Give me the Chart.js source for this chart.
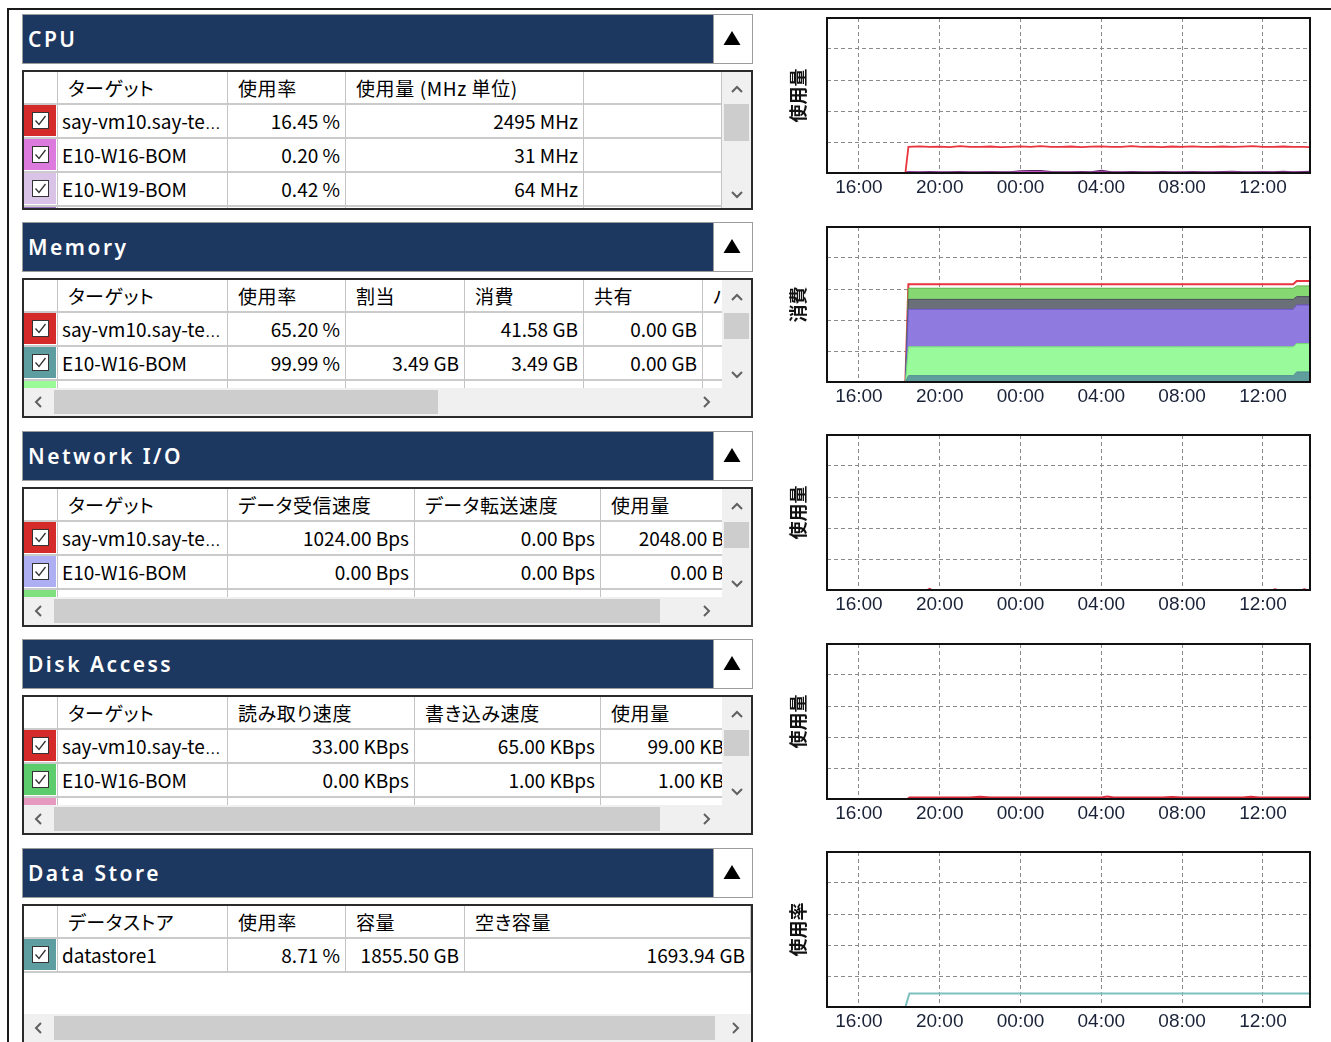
<!DOCTYPE html>
<html lang="ja"><head><meta charset="utf-8">
<script src="https://cdn.jsdelivr.net/npm/chart.js@4.4.1/dist/chart.umd.min.js"></script>
<style>
html,body{margin:0;padding:0;background:#fff}
body{position:relative;width:1331px;height:1042px;overflow:hidden;font-family:"Noto Sans CJK JP","Noto Sans",sans-serif;color:#000}
.frameT{position:absolute;left:7px;top:8px;width:1324px;height:2px;background:#1a1a1a}
.frameL{position:absolute;left:7px;top:8px;width:2px;height:1034px;background:#1a1a1a}
.hdr{position:absolute;left:22px;width:731px;height:50px;box-sizing:border-box;border:1px solid #9c9c9c;background:#fff}
.bar{position:absolute;left:0;top:0;width:690px;height:48px;background:#1c3760;color:#fff;font-family:"Noto Sans","DejaVu Sans",sans-serif;font-size:21px;font-weight:600;letter-spacing:2.5px;line-height:48px;padding-left:5px;box-sizing:border-box;white-space:nowrap}
.btn{position:absolute;left:690px;top:0;width:39px;height:48px;border-left:1px solid #9c9c9c;box-sizing:border-box;background:#fff}
.tbl{position:absolute;left:22px;width:731px;height:140px;box-sizing:border-box;border:2px solid #2b2b2b;background:#fff;overflow:hidden}
.vp{position:absolute;left:0;top:0;overflow:hidden}
.cell{position:absolute;box-sizing:border-box;border-right:1px solid #c4c4c4;border-bottom:2px solid #cbcbcb;white-space:nowrap;overflow:hidden;font-size:19px;letter-spacing:0;font-feature-settings:"palt";line-height:31px}
.cell.h{letter-spacing:0.6px}
.ell{font-family:"Liberation Sans",Arial,sans-serif;font-size:16px}
.sb{position:absolute;left:0;top:0}
canvas.ch{position:absolute;left:780px}
</style>
</head><body>
<div class="frameT"></div><div class="frameL"></div>
<canvas class="ch" id="c0" width="535" height="191"></canvas>
<canvas class="ch" id="c1" width="535" height="191"></canvas>
<canvas class="ch" id="c2" width="535" height="191"></canvas>
<canvas class="ch" id="c3" width="535" height="191"></canvas>
<canvas class="ch" id="c4" width="535" height="191"></canvas>
<script>
// ---------- chart data ----------
const xTickHours = [16, 20, 24, 28, 32, 36];
const yTitles = ['使用量', '消費', '使用量', '使用量', '使用率'];

const cpuTimes = [18.3, 18.45, 19, 19.5, 20, 20.5, 21, 21.5, 22, 22.5, 23, 23.5, 24, 24.5, 25, 25.5, 26, 26.5, 27, 27.5, 28, 28.5, 29, 29.5, 30, 30.5, 31, 31.5, 32, 32.5, 33, 33.5, 34, 34.5, 35, 35.5, 36, 36.5, 37, 37.5, 38, 38.33];
const cpuVm10 = [0, 16.9, 17.2, 16.8, 17.0, 16.7, 17.3, 16.8, 16.9, 17.1, 16.7, 16.9, 17.2, 16.8, 17.4, 16.9, 16.8, 17.1, 16.7, 17.0, 17.2, 16.8, 16.9, 17.3, 16.8, 17.0, 16.7, 17.1, 16.9, 17.2, 16.8, 16.9, 17.1, 16.8, 17.0, 17.3, 16.9, 16.8, 17.1, 16.9, 16.8, 16.7];
const cpuW16 = [0, 0.3, 0.3, 0.2, 0.3, 0.2, 0.2, 0.3, 0.2, 0.3, 0.2, 0.2, 0.6, 0.7, 0.6, 0.3, 0.2, 0.3, 0.2, 0.2, 0.5, 0.2, 0.3, 0.2, 0.2, 0.3, 0.2, 0.2, 0.3, 0.2, 0.2, 0.3, 0.2, 0.3, 0.2, 0.2, 0.3, 0.2, 0.2, 0.3, 0.2, 0.2];
const cpuW19 = [0, 0.5, 0.4, 0.5, 0.4, 0.4, 0.5, 0.4, 0.4, 0.5, 0.4, 0.4, 1.0, 1.2, 1.1, 0.5, 0.4, 0.4, 0.5, 0.4, 1.3, 0.4, 0.4, 0.5, 0.4, 0.4, 0.5, 0.4, 0.4, 0.5, 0.4, 0.4, 0.5, 0.6, 0.4, 0.4, 0.5, 0.4, 0.7, 0.4, 0.5, 0.6];

const memTimes = [18.3, 18.45, 37.5, 37.67, 38.33];
const memW16 = [0, 4.1, 4.1, 6.5, 6.5];
const memW19 = [0, 18.6, 18.6, 18.3, 18.3];
const memW20 = [0, 24.2, 24.2, 24.9, 24.9];
const memW21 = [0, 6.4, 6.4, 5.4, 5.4];
const memW22 = [0, 7.2, 7.2, 6.9, 6.9];
const memVm10 = [0, 63.1, 63.1, 65.2, 65.2];

const netTimes = [18.3, 19.4, 19.5, 19.6, 36.5, 36.6, 36.7, 37.95, 38.05, 38.15, 38.33];
const netVm10 = [0, 0, 0.7, 0, 0, 0.5, 0, 0, 0.5, 0, 0];
const netW16 = [0, 0, 0, 0, 0, 0, 0, 0, 0, 0, 0];

const diskTimes = [18.4, 18.5, 21.5, 22, 22.5, 28, 28.3, 28.6, 31, 31.5, 32, 35, 35.4, 35.8, 38.33];
const diskVm10 = [0, 0.9, 0.9, 1.4, 0.9, 0.9, 1.6, 0.9, 0.9, 1.3, 0.9, 0.9, 1.4, 0.9, 0.9];

const dsTimes = [18.3, 18.5, 38.33];
const dsStore1 = [0, 8.71, 8.71];

// ---------- table data ----------
const panelTitles = ['CPU', 'Memory', 'Network I/O', 'Disk Access', 'Data Store'];
const cpuHead = ['ターゲット', '使用率', '使用量 (MHz 単位)', ''];
const cpuRows = [['say-vm10.say-te…', '16.45 %', '2495 MHz', ''], ['E10-W16-BOM', '0.20 %', '31 MHz', ''], ['E10-W19-BOM', '0.42 %', '64 MHz', ''], ['', '', '', '']];
const memHead = ['ターゲット', '使用率', '割当', '消費', '共有', 'バルーン'];
const memRows = [['say-vm10.say-te…', '65.20 %', '', '41.58 GB', '0.00 GB', ''], ['E10-W16-BOM', '99.99 %', '3.49 GB', '3.49 GB', '0.00 GB', ''], ['', '', '', '', '', '']];
const netHead = ['ターゲット', 'データ受信速度', 'データ転送速度', '使用量'];
const netRows = [['say-vm10.say-te…', '1024.00 Bps', '0.00 Bps', '2048.00 B'], ['E10-W16-BOM', '0.00 Bps', '0.00 Bps', '0.00 B'], ['', '', '', '']];
const diskHead = ['ターゲット', '読み取り速度', '書き込み速度', '使用量'];
const diskRows = [['say-vm10.say-te…', '33.00 KBps', '65.00 KBps', '99.00 KB'], ['E10-W16-BOM', '0.00 KBps', '1.00 KBps', '1.00 KB'], ['', '', '', '']];
const dsHead = ['データストア', '使用率', '容量', '空き容量'];
const dsRows = [['datastore1', '8.71 %', '1855.50 GB', '1693.94 GB']];
const cpuSw = ['#d42a2a', '#dd7add', '#d9c3e6', '#9a70c0'];
const memSw = ['#d42a2a', '#5f9ea0', '#98fb98'];
const netSw = ['#d42a2a', '#aeaef2', '#7ee07e'];
const diskSw = ['#d42a2a', '#5ccc6c', '#e79ac0'];
const dsSw = ['#5f9ea0'];

// ---------- build panels ----------
const panels = [
  {top: 14, head: cpuHead, rows: cpuRows, sw: cpuSw, edges: [24, 58, 228, 346, 584, 722], v: [32, 37], h: null},
  {top: 222, head: memHead, rows: memRows, sw: memSw, edges: [24, 58, 228, 346, 465, 584, 703, 820], v: [33, 26], h: 384},
  {top: 431, head: netHead, rows: netRows, sw: netSw, edges: [24, 58, 228, 415, 601, 730], v: [33, 26], h: 606},
  {top: 639, head: diskHead, rows: diskRows, sw: diskSw, edges: [24, 58, 228, 415, 601, 730], v: [33, 26], h: 606},
  {top: 848, head: dsHead, rows: dsRows, sw: dsSw, edges: [24, 58, 228, 346, 465, 751], v: null, h: 661}
];
const checkSvg = '<svg width="17" height="17" style="position:absolute;left:8px;top:7px"><rect x="0.5" y="0.5" width="16" height="16" fill="#fff" stroke="#333"/><polyline points="3.5,8.5 7,12.5 13.5,4" fill="none" stroke="#333" stroke-width="1.3"/></svg>';
const fmt = t => t.replace('…', '<span class="ell">…</span>');
panels.forEach((p, pi) => {
  const hdr = document.createElement('div');
  hdr.className = 'hdr'; hdr.style.top = p.top + 'px';
  hdr.innerHTML = '<div class="bar">' + panelTitles[pi] + '</div><div class="btn"><svg width="39" height="48"><polygon points="9.5,30 26.5,30 18,16" fill="#000"/></svg></div>';
  document.body.appendChild(hdr);
  const tbl = document.createElement('div');
  tbl.className = 'tbl'; tbl.style.top = (p.top + 56) + 'px';
  const vpW = p.v ? 698 : 727, vpH = p.h ? 108 : 136;
  const vp = document.createElement('div');
  vp.className = 'vp'; vp.style.width = vpW + 'px'; vp.style.height = vpH + 'px';
  let html = '';
  const rowsAll = [p.head].concat(p.rows);
  let y = 0;
  rowsAll.forEach((r, ri) => {
    const hgt = ri === 0 ? 33 : 34;
    for (let c = 0; c < p.edges.length - 1; c++) {
      const x = p.edges[c] - 24, w = p.edges[c + 1] - p.edges[c];
      let inner = '', st = '';
      if (c === 0) {
        if (ri > 0) inner = '<div style="position:absolute;left:0;top:0;width:' + (w - 2) + 'px;height:' + (hgt - 3) + 'px;background:' + p.sw[ri - 1] + '"></div>' + checkSvg;
      } else {
        const t = ri === 0 ? p.head[c - 1] : r[c - 1];
        if (ri === 0) st = 'padding-left:10px;text-align:left;';
        else if (c === 1) st = 'padding-left:4px;text-align:left;';
        else st = 'padding-right:5px;text-align:right;';
        inner = fmt(t);
      }
      html += '<div class="cell' + (ri === 0 ? ' h' : '') + '" style="left:' + x + 'px;top:' + y + 'px;width:' + w + 'px;height:' + hgt + 'px;' + st + '">' + inner + '</div>';
    }
    y += hgt;
  });
  vp.innerHTML = html;
  tbl.appendChild(vp);
  let s = '<svg class="sb" width="727" height="136">';
  if (p.v) {
    s += '<rect x="698" y="0" width="29" height="' + vpH + '" fill="#f0f0f0"/>';
    s += '<rect x="700" y="' + p.v[0] + '" width="25" height="' + p.v[1] + '" fill="#cdcdcd"/>';
    s += '<polyline points="708,20 713,15 718,20" fill="none" stroke="#606060" stroke-width="2"/>';
    const dy = vpH - 13;
    s += '<polyline points="708,' + (dy - 3) + ' 713,' + (dy + 2) + ' 718,' + (dy - 3) + '" fill="none" stroke="#606060" stroke-width="2"/>';
  }
  if (p.h) {
    const hw = p.v ? 698 : 727;
    s += '<rect x="0" y="108" width="' + hw + '" height="28" fill="#f0f0f0"/>';
    s += '<rect x="30" y="110" width="' + p.h + '" height="24" fill="#cdcdcd"/>';
    s += '<polyline points="17,117 12,122 17,127" fill="none" stroke="#606060" stroke-width="2"/>';
    const rx = hw - 16;
    s += '<polyline points="' + (rx - 2) + ',117 ' + (rx + 3) + ',122 ' + (rx - 2) + ',127" fill="none" stroke="#606060" stroke-width="2"/>';
    if (p.v) s += '<rect x="698" y="108" width="29" height="28" fill="#f0f0f0"/>';
  }
  s += '</svg>';
  tbl.insertAdjacentHTML('beforeend', s);
  document.body.appendChild(tbl);
});

// ---------- charts ----------
const plotTops = [18, 227, 435, 644, 852];
const frame = {id: 'frame', afterDraw(c) {
  const a = c.chartArea, x = c.ctx;
  x.save(); x.strokeStyle = '#111'; x.lineWidth = 2;
  x.strokeRect(a.left, a.top, a.right - a.left, a.bottom - a.top); x.restore();
}};
const pts = (ts, vs) => ts.map((t, i) => ({x: t, y: vs[i]}));
function lineDs(label, ts, vs, color, w, extra) {
  return Object.assign({label, data: pts(ts, vs), borderColor: color, borderWidth: w, pointRadius: 0, tension: 0, fill: false}, extra || {});
}
function makeChart(i, datasets, stacked) {
  const cv = document.getElementById('c' + i);
  cv.style.top = (plotTops[i] - 6) + 'px';
  new Chart(cv, {
    type: 'line',
    data: {datasets},
    options: {
      responsive: false, animation: false,
      layout: {padding: {top: 6, right: 5, left: 0, bottom: 0}},
      plugins: {legend: {display: false}, tooltip: {enabled: false}},
      scales: {
        x: {
          type: 'linear', min: 14.42, max: 38.33,
          afterBuildTicks: s => { s.ticks = xTickHours.map(v => ({value: v})); },
          afterFit: s => { s.height = 30; },
          ticks: {autoSkip: false, maxRotation: 0, padding: 3, color: '#1a2238',
            font: {family: '"Liberation Sans", Arial, sans-serif', size: 19},
            callback: v => String(((v % 24) + 24) % 24).padStart(2, '0') + ':00'},
          grid: {color: '#8a8a8a', lineWidth: 1, drawTicks: false},
          border: {display: false, dash: [4, 3]}
        },
        y: {
          min: 0, max: 100, stacked: !!stacked,
          afterFit: s => { s.width = 47; },
          ticks: {display: false, stepSize: 20},
          grid: {color: '#8a8a8a', lineWidth: 1, drawTicks: false},
          border: {display: false, dash: [4, 3]},
          title: {display: true, text: yTitles[i], color: '#111', padding: {top: 7, bottom: 0},
            font: {family: '"Noto Sans CJK JP", sans-serif', size: 18, weight: 'bold'}}
        }
      }
    },
    plugins: [frame]
  });
}

makeChart(0, [
  lineDs('say-vm10.say-te…', cpuTimes, cpuVm10, '#e8353f', 1.8),
  lineDs('E10-W16-BOM', cpuTimes, cpuW16, '#c050c0', 2),
  lineDs('E10-W19-BOM', cpuTimes, cpuW19, '#5e2468', 2.5)
]);
makeChart(1, [
  lineDs('E10-W16-BOM', memTimes, memW16, '#4f8e90', 1, {fill: 'origin', backgroundColor: '#5f9e9c', stack: 'a'}),
  lineDs('E10-W19-BOM', memTimes, memW19, '#74d874', 1, {fill: '-1', backgroundColor: '#98fa9a', stack: 'a'}),
  lineDs('E10-W20-BOM', memTimes, memW20, '#6a52c4', 1, {fill: '-1', backgroundColor: '#8f7adf', stack: 'a'}),
  lineDs('E10-W21-BOM', memTimes, memW21, '#4b4f5a', 1, {fill: '-1', backgroundColor: '#6b6f78', stack: 'a'}),
  lineDs('E10-W22-BOM', memTimes, memW22, '#5fb24c', 1, {fill: '-1', backgroundColor: '#86d873', stack: 'a'}),
  lineDs('say-vm10.say-te…', memTimes, memVm10, '#e8353f', 2, {stack: 'b'})
], true);
makeChart(2, [
  lineDs('say-vm10.say-te…', netTimes, netVm10, '#d8283a', 2),
  lineDs('E10-W16-BOM', netTimes, netW16, '#aeaef2', 2)
]);
makeChart(3, [
  lineDs('say-vm10.say-te…', diskTimes, diskVm10, '#d8283a', 2)
]);
makeChart(4, [
  lineDs('datastore1', dsTimes, dsStore1, '#7ebfbf', 2)
]);
</script>
</body></html>
